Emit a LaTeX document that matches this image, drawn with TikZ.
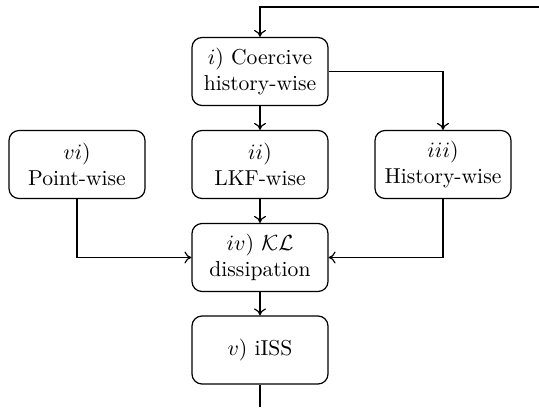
\documentclass[tikz,border=0pt]{standalone}
\usetikzlibrary{arrows.meta}
\begin{document}
\begin{tikzpicture}[x=0.5pt,y=-0.5pt,
  blk/.style={draw, line width=0.6pt, rounded corners=5pt, minimum width=68pt, minimum height=34pt, inner sep=0pt, align=center, font=\fontsize{10.8}{13.3}\selectfont},
  conn/.style={draw, line width=0.6pt},
  arr/.style={conn, -{To[length=3.5pt,width=6pt]}}]
\useasboundingbox (0,0) rectangle (539,407);
\node[blk] (i) at (260,71.5) {$i)$ Coercive\\history-wise};
\node[blk] (vi) at (77,164.5) {$vi)$\\Point-wise};
\node[blk] (ii) at (260,164.5) {$ii)$\\LKF-wise};
\node[blk] (iii) at (443,164.5) {$iii)$\\History-wise};
\node[blk] (iv) at (260,257.5) {$iv)$ $\mathcal{KL}$\\dissipation};
\node[blk] (v) at (260,350) {$v)$ iISS};
\coordinate (tr) at (539,7);
\coordinate (bot) at (260,407);
\draw[arr] (tr) -| (i.north);
\draw[arr] (i.east) -| (iii.north);
\draw[arr] (i) -- (ii);
\draw[arr] (ii) -- (iv);
\draw[arr] (vi.south) |- (iv.west);
\draw[arr] (iii.south) |- (iv.east);
\draw[arr] (iv) -- (v);
\draw[conn] (v.south) -- (bot);
\end{tikzpicture}
\end{document}
